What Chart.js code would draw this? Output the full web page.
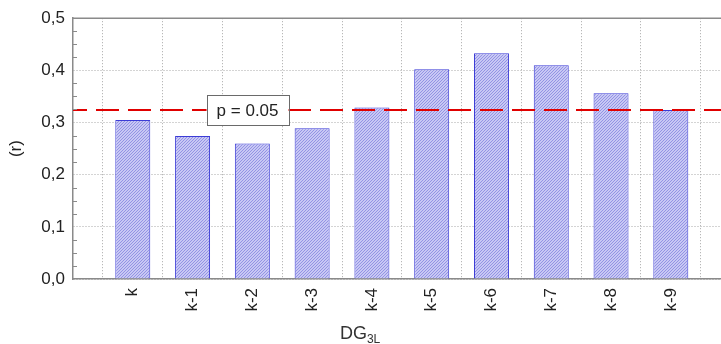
<!DOCTYPE html>
<html>
<head>
<meta charset="utf-8">
<script src="https://cdn.jsdelivr.net/npm/chart.js@4/dist/chart.umd.min.js"></script>
<style>
    html, body { margin: 0; padding: 0; background: #fff; overflow: hidden; }
    #wrap { width: 760px; height: 344px; }
</style>
</head>
<body>
<div id="wrap"><canvas id="lagChart" width="760" height="344"></canvas></div>
<script>
// categories on the x axis (lags of DG3L)
const categories = ['k', 'k-1', 'k-2', 'k-3', 'k-4', 'k-5', 'k-6', 'k-7', 'k-8', 'k-9'];
// correlation coefficient (r) per lag
const rValues = [0.305, 0.274, 0.260, 0.289, 0.329, 0.402, 0.433, 0.410, 0.356, 0.324];
// significance threshold
const pThreshold = 0.324;
const pLabel = 'p = 0.05';
const yTicks = [0, 0.1, 0.2, 0.3, 0.4, 0.5];

// empty slot on each side, like the original plot
const labels = [''].concat(categories, ['']);
const barData = [null].concat(rValues, [null]);
const lineData = labels.map(() => pThreshold);

function hatchPattern() {
    const c = document.createElement('canvas');
    c.width = 3;
    c.height = 3;
    const g = c.getContext('2d');
    g.fillStyle = '#c8c8f4';
    g.fillRect(0, 0, 3, 3);
    g.fillStyle = '#9393e4';
    // one diagonal "/" per tile
    g.fillRect(2, 0, 1, 1);
    g.fillRect(1, 1, 1, 1);
    g.fillRect(0, 2, 1, 1);
    return g.createPattern(c, 'repeat');
}

const extras = {
    id: 'extras',
    afterDatasetsDraw(chart) {
        const ctx = chart.ctx;
        const area = chart.chartArea;
        const x = chart.scales.x;
        const y = chart.scales.y;

        // top frame line
        ctx.save();
        ctx.strokeStyle = '#8a8a8a';
        ctx.lineWidth = 1.5;
        ctx.beginPath();
        ctx.moveTo(area.left, area.top);
        ctx.lineTo(area.right, area.top);
        ctx.stroke();

        // minor ticks on the y axis
        ctx.lineWidth = 1;
        ctx.strokeStyle = '#8a8a8a';
        for (let v = 0.025; v < 0.5; v += 0.025) {
            if (Math.abs(v * 10 - Math.round(v * 10)) < 0.01) continue;
            const py = Math.round(y.getPixelForValue(v)) + 0.5;
            ctx.beginPath();
            ctx.moveTo(area.left, py);
            ctx.lineTo(area.left + 4, py);
            ctx.stroke();
        }

        // p = 0.05 box
        const cx = x.getPixelForValue(2.92);
        const cy = y.getPixelForValue(pThreshold);
        ctx.font = '17px "Liberation Sans", Arial, sans-serif';
        ctx.fillStyle = '#fff';
        ctx.fillRect(cx - 41, cy - 15, 82, 30);
        ctx.strokeStyle = '#6a6a6a';
        ctx.strokeRect(Math.round(cx - 41) + 0.5, Math.round(cy - 15) + 0.5, 82, 30);
        ctx.fillStyle = '#222';
        ctx.textAlign = 'center';
        ctx.textBaseline = 'middle';
        ctx.fillText(pLabel, cx, cy + 1);

        // x axis title with subscript
        const tx = x.getPixelForValue(5.0) - 32;
        const ty = 339;
        ctx.textAlign = 'left';
        ctx.textBaseline = 'alphabetic';
        ctx.fillStyle = '#333';
        ctx.font = '18px "Liberation Sans", Arial, sans-serif';
        ctx.fillText('DG', tx, ty);
        const w = ctx.measureText('DG').width;
        ctx.font = '12px "Liberation Sans", Arial, sans-serif';
        ctx.fillText('3L', tx + w, ty + 4);
        ctx.restore();
    }
};

const ctx = document.getElementById('lagChart').getContext('2d');
new Chart(ctx, {
    data: {
        labels: labels,
        datasets: [
            {
                type: 'line',
                data: lineData,
                borderColor: '#e00000',
                borderWidth: 2,
                borderDash: [23, 9],
                borderDashOffset: 9,
                pointRadius: 0,
                fill: false,
                order: 0
            },
            {
                type: 'bar',
                data: barData,
                backgroundColor: hatchPattern(),
                borderColor: '#3c3cd6',
                borderWidth: 1,
                categoryPercentage: 1,
                barPercentage: 0.585,
                order: 1
            }
        ]
    },
    options: {
        responsive: false,
        animation: false,
        layout: {
            padding: { top: 17, right: 14, bottom: 0, left: 0 }
        },
        plugins: {
            legend: { display: false },
            tooltip: { enabled: false }
        },
        scales: {
            x: {
                type: 'category',
                offset: false,
                grid: {
                    color: '#a8a8a8',
                    lineWidth: 1,
                    drawTicks: false
                },
                border: { color: '#8a8a8a', width: 1.5, dash: [1, 2] },
                ticks: {
                    minRotation: 90,
                    maxRotation: 90,
                    autoSkip: false,
                    padding: 9,
                    color: '#222',
                    font: { family: '"Liberation Sans", Arial, sans-serif', size: 17 }
                },
                afterFit: function(scale) {
                    scale.height = 65;
                }
            },
            y: {
                min: 0,
                max: 0.5,
                afterBuildTicks: function(scale) {
                    scale.ticks = yTicks.map(v => ({ value: v }));
                },
                grid: {
                    color: '#a8a8a8',
                    lineWidth: 1,
                    drawTicks: false
                },
                border: { color: '#8a8a8a', width: 1.5, dash: [1, 2] },
                ticks: {
                    padding: 8,
                    color: '#222',
                    font: { family: '"Liberation Sans", Arial, sans-serif', size: 17 },
                    callback: v => v.toFixed(1).replace('.', ',')
                },
                title: {
                    display: true,
                    text: '(r)',
                    color: '#222',
                    padding: { top: 6, bottom: 0 },
                    font: { family: '"Liberation Sans", Arial, sans-serif', size: 17 }
                },
                afterFit: function(scale) {
                    scale.width = 73;
                }
            }
        }
    },
    plugins: [extras]
});
</script>
</body>
</html>
